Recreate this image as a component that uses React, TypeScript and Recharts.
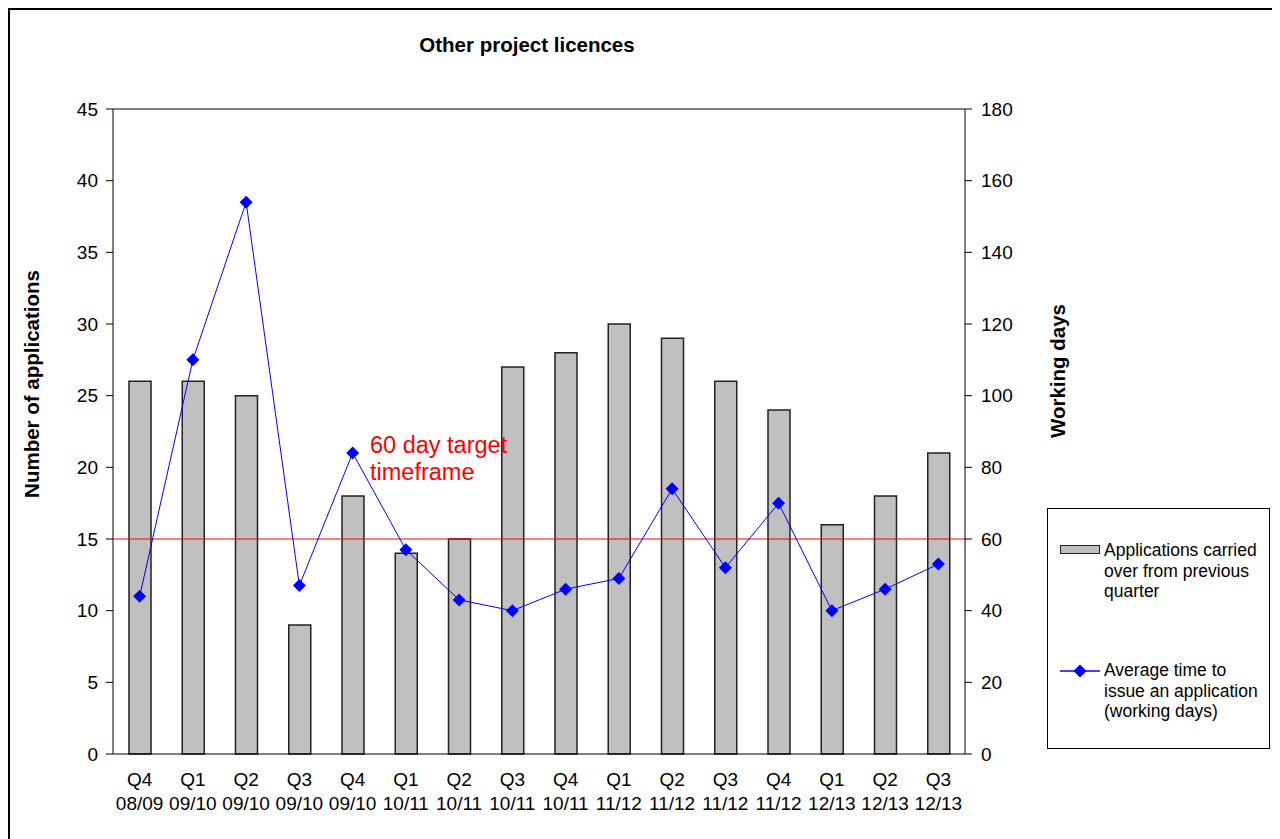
import { ComposedChart, Bar, Line, XAxis, YAxis, ReferenceLine } from 'recharts';

const quarters = ['Q4', 'Q1', 'Q2', 'Q3', 'Q4', 'Q1', 'Q2', 'Q3', 'Q4', 'Q1', 'Q2', 'Q3', 'Q4', 'Q1', 'Q2', 'Q3'];
const years = ['08/09', '09/10', '09/10', '09/10', '09/10', '10/11', '10/11', '10/11', '10/11', '11/12', '11/12', '11/12', '11/12', '12/13', '12/13', '12/13'];
const carriedOver = [26, 26, 25, 9, 18, 14, 15, 27, 28, 30, 29, 26, 24, 16, 18, 21];
const avgDays = [44, 110, 154, 47, 84, 57, 43, 40, 46, 49, 74, 52, 70, 40, 46, 53];
const leftTicks = [0, 5, 10, 15, 20, 25, 30, 35, 40, 45];
const rightTicks = [0, 20, 40, 60, 80, 100, 120, 140, 160, 180];
const targetDays = 60;

const data = quarters.map((q, i) => ({
  key: `${q} ${years[i]}`,
  q,
  year: years[i],
  carried: carriedOver[i],
  days: avgDays[i],
}));

const FONT = '"Liberation Sans", Arial, sans-serif';
const tickStyle = { fill: '#000', fontSize: 19, fontFamily: FONT };

function QuarterTick({ x, y, payload }: any) {
  const d = data[payload.index];
  return (
    <text x={x} y={y} textAnchor="middle" fill="#000" fontSize={19} fontFamily={FONT}>
      <tspan x={x} y={y + 32}>{d.q}</tspan>
      <tspan x={x} y={y + 56}>{d.year}</tspan>
    </text>
  );
}

function Diamond({ cx, cy }: any) {
  if (cx == null || cy == null) return null;
  const r = 6.5;
  return <path d={`M${cx},${cy - r}L${cx + r},${cy}L${cx},${cy + r}L${cx - r},${cy}Z`} fill="#0000ff" />;
}

function TargetLabel({ viewBox }: any) {
  const x = viewBox.x + 257;
  const y = viewBox.y;
  return (
    <text fill="#ff0000" fontSize={23.5} fontFamily={FONT}>
      <tspan x={x} y={y - 86}>60 day target</tspan>
      <tspan x={x} y={y - 59}>timeframe</tspan>
    </text>
  );
}

export default function App() {
  return (
    <div
      style={{
        position: 'relative',
        width: 1272,
        height: 831,
        boxSizing: 'border-box',
        borderTop: '2px solid #000',
        borderLeft: '2px solid #000',
        overflow: 'hidden',
        fontFamily: FONT,
        background: '#fff',
      }}
    >
      <div
        style={{
          position: 'absolute',
          left: 517,
          top: 23,
          transform: 'translateX(-50%)',
          fontSize: 20.5,
          fontWeight: 'bold',
          lineHeight: '24px',
          whiteSpace: 'nowrap',
        }}
      >
        Other project licences
      </div>
      <ComposedChart
        width={1270}
        height={829}
        data={data}
        margin={{ top: 99, right: 255, bottom: 25, left: 43 }}
      >
        <XAxis
          dataKey="key"
          interval={0}
          tickLine={false}
          tickSize={0}
          tickMargin={0}
          height={60}
          axisLine={{ stroke: '#000' }}
          tick={<QuarterTick />}
        />
        <YAxis
          yAxisId="left"
          domain={[0, 45]}
          ticks={leftTicks}
          interval={0}
          width={60}
          tickSize={7}
          tickMargin={8}
          axisLine={{ stroke: '#000' }}
          tickLine={{ stroke: '#000' }}
          tick={tickStyle}
          label={() => (
            <text
              x={21}
              y={374}
              transform="rotate(-90 21 374)"
              textAnchor="middle"
              dominantBaseline="central"
              fontSize={20.5}
              fontWeight="bold"
              fontFamily={FONT}
              fill="#000"
            >
              Number of applications
            </text>
          )}
        />
        <YAxis
          yAxisId="right"
          orientation="right"
          domain={[0, 180]}
          ticks={rightTicks}
          interval={0}
          width={60}
          tickSize={7}
          tickMargin={9}
          axisLine={{ stroke: '#000' }}
          tickLine={{ stroke: '#000' }}
          tick={tickStyle}
          label={() => (
            <text
              x={1047}
              y={361}
              transform="rotate(-90 1047 361)"
              textAnchor="middle"
              dominantBaseline="central"
              fontSize={20.5}
              fontWeight="bold"
              fontFamily={FONT}
              fill="#000"
            >
              Working days
            </text>
          )}
        />
        <ReferenceLine yAxisId="left" y={45} stroke="#000" strokeWidth={1} />
        <Bar
          yAxisId="left"
          dataKey="carried"
          barSize={22}
          fill="#c0c0c0"
          stroke="#222"
          strokeWidth={1.5}
          isAnimationActive={false}
        />
        <ReferenceLine
          yAxisId="right"
          y={targetDays}
          stroke="#ff0000"
          strokeWidth={1}
          label={<TargetLabel />}
        />
        <Line
          yAxisId="right"
          dataKey="days"
          stroke="#0000ff"
          strokeWidth={1}
          dot={<Diamond />}
          activeDot={false}
          isAnimationActive={false}
        />
      </ComposedChart>
      <div
        style={{
          position: 'absolute',
          left: 1037,
          top: 498,
          width: 223,
          height: 241,
          boxSizing: 'border-box',
          border: '1px solid #000',
          fontSize: 17.5,
          lineHeight: '20.5px',
          color: '#000',
        }}
      >
        <div
          style={{
            position: 'absolute',
            left: 12,
            top: 36,
            width: 40,
            height: 9,
            boxSizing: 'border-box',
            background: '#c0c0c0',
            border: '1.5px solid #222',
          }}
        />
        <div style={{ position: 'absolute', left: 56, top: 31, width: 158 }}>
          Applications carried over from previous quarter
        </div>
        <svg style={{ position: 'absolute', left: 12, top: 155 }} width={40} height={14}>
          <line x1={0} y1={7} x2={40} y2={7} stroke="#0000ff" strokeWidth={1.5} />
          <Diamond cx={20} cy={7} />
        </svg>
        <div style={{ position: 'absolute', left: 56, top: 151, width: 158 }}>
          Average time to issue an application (working days)
        </div>
      </div>
    </div>
  );
}
